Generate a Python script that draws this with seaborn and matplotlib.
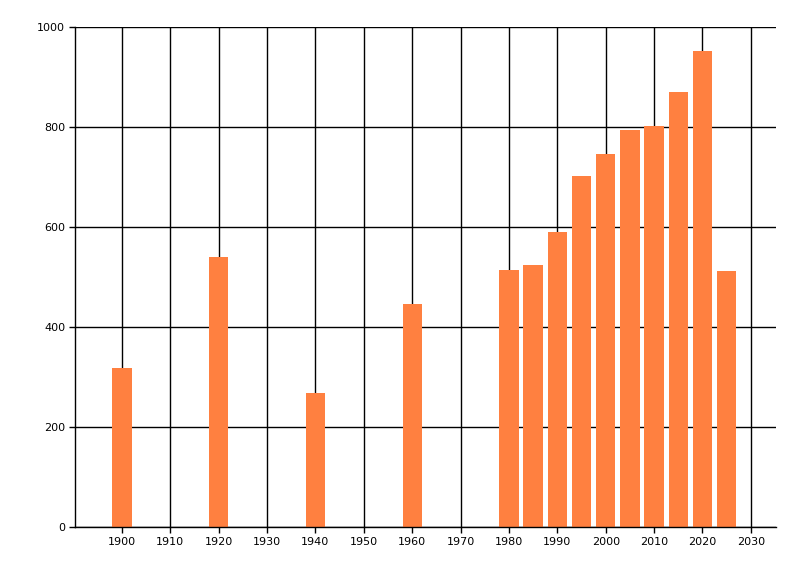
import matplotlib
matplotlib.use('Agg')
import matplotlib.pyplot as plt
import numpy as np
import pandas as pd
import seaborn as sns

years = [1900, 1920, 1940, 1960, 1980, 1985, 1990, 1995, 2000, 2005, 2010, 2015, 2020, 2025]
values = [318, 540, 268, 446, 514, 524, 590, 702, 746, 794, 802, 870, 952, 512]
x_ticks = list(range(1900, 2031, 10))
y_ticks = [0, 200, 400, 600, 800, 1000]

sns.set_style('white')
plt.rcParams['font.family'] = ['DejaVu Sans']

df = pd.DataFrame({'year': years, 'value': values})

fig = plt.figure(figsize=(8, 5.76), dpi=100)
ax = fig.add_axes([75 / 800, 1 - 527 / 576, 701 / 800, 500 / 576])
sns.barplot(data=df, x='year', y='value', native_scale=True, width=0.8,
            color='#ff8040', saturation=1, linewidth=0, ax=ax)

ax.set_xlim(1890.3, 2035.2)
ax.set_ylim(0, 1000)
ax.set_xticks(x_ticks)
ax.set_yticks(y_ticks)
ax.set_axisbelow(True)
ax.grid(True, color='black', linewidth=1)
ax.set_xlabel('')
ax.set_ylabel('')
for side in ['top', 'right']:
    ax.spines[side].set_visible(False)
for side in ['left', 'bottom']:
    ax.spines[side].set_color('black')
    ax.spines[side].set_linewidth(1)
ax.tick_params(axis='both', direction='out', length=4, width=1, color='black',
               labelsize=8, labelcolor='black', pad=3, bottom=True, left=True)

plt.savefig('out.png', dpi=100)
